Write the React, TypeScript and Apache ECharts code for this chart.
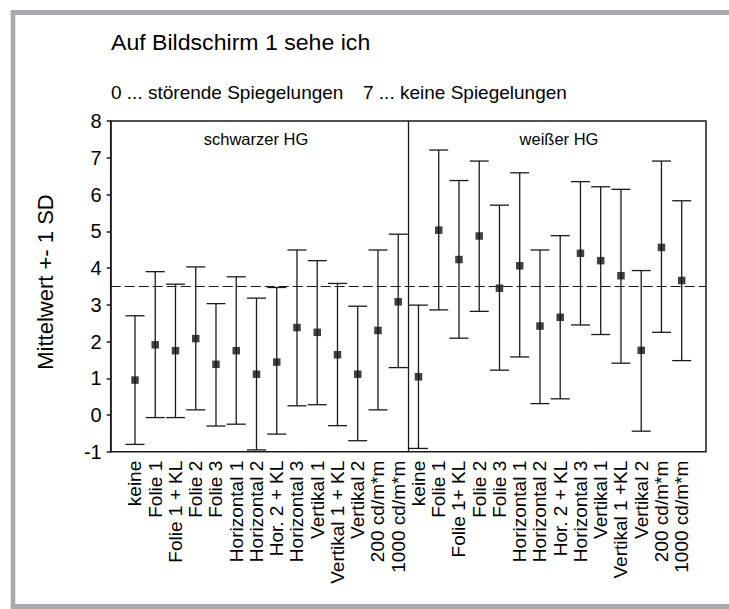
import React, { useEffect, useRef } from "react";
import * as echarts from "echarts";

// ---- data ----
const leftCategories = [
  "keine", "Folie 1", "Folie 1 + KL", "Folie 2", "Folie 3", "Horizontal 1", "Horizontal 2",
  "Hor. 2 + KL", "Horizontal 3", "Vertikal 1", "Vertikal 1 + KL", "Vertikal 2", "200 cd/m*m", "1000 cd/m*m",
];
const rightCategories = [
  "keine", "Folie 1", "Folie 1+ KL", "Folie 2", "Folie 3", "Horizontal 1", "Horizontal 2",
  "Hor. 2 + KL", "Horizontal 3", "Vertikal 1", "Vertikal 1 +KL", "Vertikal 2", "200 cd/m*m", "1000 cd/m*m",
];
const leftMeans = [0.95, 1.91, 1.75, 2.08, 1.38, 1.75, 1.11, 1.44, 2.38, 2.25, 1.64, 1.11, 2.3, 3.08];
const leftUpper = [2.7, 3.9, 3.56, 4.03, 3.03, 3.76, 3.18, 3.47, 4.49, 4.2, 3.58, 2.96, 4.49, 4.92];
const leftLower = [-0.8, -0.07, -0.07, 0.14, -0.3, -0.25, -0.95, -0.52, 0.25, 0.28, -0.29, -0.7, 0.14, 1.29];
const rightMeans = [1.04, 5.03, 4.23, 4.87, 3.45, 4.06, 2.42, 2.66, 4.4, 4.2, 3.79, 1.76, 4.56, 3.66];
const rightUpper = [2.99, 7.21, 6.38, 6.91, 5.71, 6.59, 4.49, 4.88, 6.35, 6.21, 6.14, 3.93, 6.91, 5.83];
const rightLower = [-0.91, 2.86, 2.09, 2.82, 1.22, 1.58, 0.31, 0.44, 2.45, 2.19, 1.41, -0.44, 2.25, 1.48];
const referenceValue = 3.5;
const panelNames = ["schwarzer HG", "weißer HG"];
const titleText = "Auf Bildschirm 1 sehe ich";
const subtitleLeft = "0 ... störende Spiegelungen";
const subtitleRight = "7 ... keine Spiegelungen";
const yAxisName = "Mittelwert +- 1 SD";
const yMin = -1;
const yMax = 8;

const FONT = "'Liberation Sans', Arial, Helvetica, sans-serif";
const INK = "#1a1a1a";
const FRAME = "#a9a9ab";

export default function App() {
  const ref = useRef<HTMLDivElement>(null);

  useEffect(() => {
    if (!ref.current) return;
    const chart = echarts.init(ref.current, undefined, { renderer: "svg" });

    const allCategories = [...leftCategories, ...rightCategories];
    const allMeans = [...leftMeans, ...rightMeans];
    const allLower = [...leftLower, ...rightLower];
    const allUpper = [...leftUpper, ...rightUpper];
    const idx = allCategories.map((_, i) => i);
    const nLeft = leftCategories.length;
    const divider = nLeft - 0.5;

    const gridLeft = 110.7;
    const gridTop = 121;
    const gridW = 595.3;
    const gridH = 330.75;

    const option: any = {
      animation: false,
      backgroundColor: "#fff",
      textStyle: { fontFamily: FONT },
      grid: {
        left: gridLeft,
        top: gridTop,
        width: gridW,
        height: gridH,
        show: true,
        borderColor: INK,
        borderWidth: 1.5,
        backgroundColor: "transparent",
        outerBoundsMode: "none",
        containLabel: false,
      },
      xAxis: {
        type: "value",
        min: -1.2,
        max: idx.length - 1 + 1.2,
        axisLine: { show: false, onZero: false },
        axisTick: { show: false },
        splitLine: { show: false },
        axisLabel: {
          customValues: idx,
          formatter: (v: number) => allCategories[Math.round(v)] ?? "",
          rotate: 90,
          fontSize: 19,
          margin: 9,
          color: "#000",
          fontFamily: FONT,
        },
      },
      yAxis: {
        type: "value",
        min: yMin,
        max: yMax,
        interval: 1,
        axisLine: { show: true, onZero: false, lineStyle: { color: INK, width: 1.5 } },
        axisTick: { show: true, length: 4, inside: false, lineStyle: { color: INK, width: 1.5 } },
        splitLine: { show: false },
        axisLabel: { fontSize: 20, color: "#000", margin: 9, fontFamily: FONT },
      },
      series: [
        {
          type: "custom",
          name: "sd",
          data: idx.map((i) => [i, allLower[i], allUpper[i]]),
          encode: { x: 0, y: [1, 2] },
          renderItem: (_params: any, api: any) => {
            const x = api.value(0);
            const lo = api.coord([x, api.value(1)]);
            const hi = api.coord([x, api.value(2)]);
            const hw = 9.5;
            const style = { stroke: INK, lineWidth: 1.3, fill: "none" };
            return {
              type: "group",
              children: [
                { type: "line", shape: { x1: lo[0], y1: lo[1], x2: hi[0], y2: hi[1] }, style },
                { type: "line", shape: { x1: lo[0] - hw, y1: lo[1], x2: lo[0] + hw, y2: lo[1] }, style },
                { type: "line", shape: { x1: hi[0] - hw, y1: hi[1], x2: hi[0] + hw, y2: hi[1] }, style },
              ],
            };
          },
          silent: true,
          z: 2,
        },
        {
          type: "scatter",
          name: "mean",
          data: idx.map((i) => [i, allMeans[i]]),
          symbol: "rect",
          symbolSize: 7.5,
          itemStyle: { color: "#111" },
          z: 3,
          silent: true,
          markLine: {
            silent: true,
            symbol: "none",
            label: { show: false },
            data: [
              { xAxis: divider, lineStyle: { color: INK, width: 1.3, type: "solid" } },
              { yAxis: referenceValue, lineStyle: { color: INK, width: 1.2, type: [10, 4] } },
            ],
          },
        },
      ],
      graphic: [
        {
          type: "line",
          shape: { x1: 10.75, y1: 12.5, x2: 729, y2: 12.5 },
          style: { stroke: FRAME, lineWidth: 5 },
          silent: true,
        },
        {
          type: "line",
          shape: { x1: 13, y1: 10, x2: 13, y2: 609 },
          style: { stroke: FRAME, lineWidth: 4.5 },
          silent: true,
        },
        {
          type: "line",
          shape: { x1: 10.75, y1: 606.5, x2: 729, y2: 606.5 },
          style: { stroke: FRAME, lineWidth: 5 },
          silent: true,
        },
        {
          type: "text",
          x: 111,
          y: 43,
          scaleX: 1.05,
          style: { text: titleText, font: `22px ${FONT}`, fill: "#000", align: "left", verticalAlign: "middle" },
        },
        {
          type: "text",
          x: 111,
          y: 92.5,
          style: { text: subtitleLeft, font: `19px ${FONT}`, fill: "#000", align: "left", verticalAlign: "middle" },
        },
        {
          type: "text",
          x: 363,
          y: 92.5,
          style: { text: subtitleRight, font: `19px ${FONT}`, fill: "#000", align: "left", verticalAlign: "middle" },
        },
        {
          type: "text",
          x: 45,
          y: 282,
          rotation: Math.PI / 2,
          style: { text: yAxisName, font: `22px ${FONT}`, fill: "#000", align: "center", verticalAlign: "middle" },
        },
        {
          type: "text",
          x: 256,
          y: 139,
          style: { text: panelNames[0], font: `16.5px ${FONT}`, fill: "#000", align: "center", verticalAlign: "middle" },
        },
        {
          type: "text",
          x: 559,
          y: 139,
          style: { text: panelNames[1], font: `16.5px ${FONT}`, fill: "#000", align: "center", verticalAlign: "middle" },
        },
      ],
    };

    chart.setOption(option);
    return () => chart.dispose();
  }, []);

  return (
    <div
      ref={ref}
      style={{ position: "absolute", left: 0, top: 0, width: 729, height: 609, background: "#fff" }}
    />
  );
}
